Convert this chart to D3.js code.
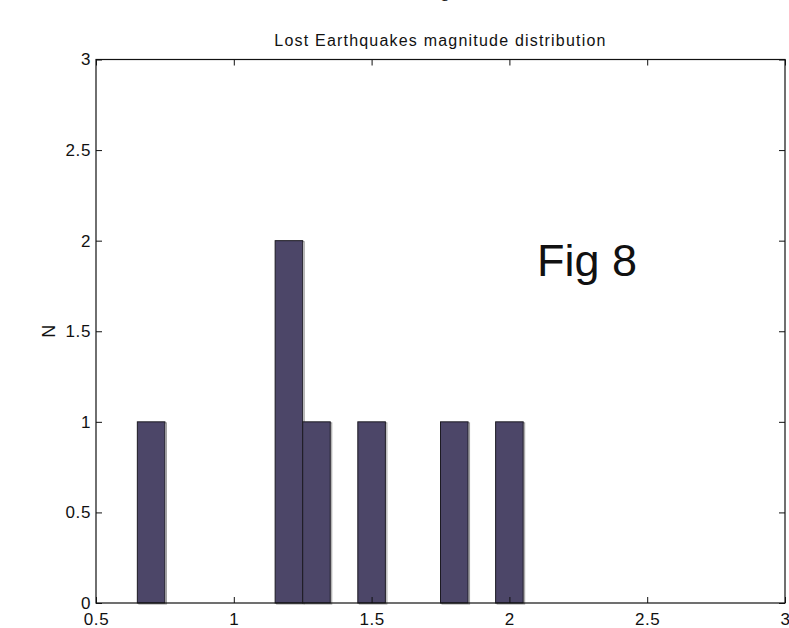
<!DOCTYPE html>
<html>
<head>
<meta charset="utf-8">
<title>Lost Earthquakes magnitude distribution</title>
<style>
  body { margin: 0; background: #fff; }
  svg text { font-family: "Liberation Sans", Arial, Helvetica, sans-serif; fill: #111; }
</style>
</head>
<body>
<div id="chart"></div>
<script src="https://cdn.jsdelivr.net/npm/d3@7/dist/d3.min.js"></script>
<script>
// histogram bins (centres) and counts
var binCenters = [0.7, 0.8, 0.9, 1.0, 1.1, 1.2, 1.3, 1.4, 1.5, 1.6, 1.7, 1.8, 1.9, 2.0];
var counts     = [1,   0,   0,   0,   0,   2,   1,   0,   1,   0,   0,   1,   0,   1];
var binWidth = 0.1;
var xTicks = [0.5, 1, 1.5, 2, 2.5, 3];
var yTicks = [0, 0.5, 1, 1.5, 2, 2.5, 3];

var width = 789, height = 628;
var plotL = 96, plotR = 785, plotT = 59.5, plotB = 603;

var svg = d3.select("#chart").append("svg")
    .attr("width", width)
    .attr("height", height);

var x = d3.scaleLinear().domain([0.5, 3]).range([plotL, plotR]);
var y = d3.scaleLinear().domain([0, 3]).range([plotB, plotT]);

// cut-off caption from page above
svg.append("text")
    .attr("x", 442).attr("y", -3)
    .style("font-family", "Liberation Serif, serif")
    .style("font-style", "italic")
    .style("font-size", "18px")
    .text("g");

// bars (with faint grey shadow like the scan)
var bins = binCenters.map(function(c, i) { return { x0: c - binWidth / 2, x1: c + binWidth / 2, n: counts[i] }; });

svg.append("g").selectAll("rect.shadow")
    .data(bins).enter().append("rect")
    .attr("class", "shadow")
    .attr("x", function(d) { return x(d.x0) + 1.5; })
    .attr("y", function(d) { return y(d.n) + 1; })
    .attr("width", function(d) { return x(d.x1) - x(d.x0); })
    .attr("height", function(d) { return y(0) - y(d.n); })
    .attr("fill", "none")
    .attr("stroke", "#9a9a9a")
    .attr("stroke-width", 1);

svg.append("g").selectAll("rect.bar")
    .data(bins).enter().append("rect")
    .attr("class", "bar")
    .attr("x", function(d) { return x(d.x0); })
    .attr("y", function(d) { return y(d.n); })
    .attr("width", function(d) { return x(d.x1) - x(d.x0); })
    .attr("height", function(d) { return y(0) - y(d.n); })
    .attr("fill", "#4c4668")
    .attr("stroke", "#1c1a22")
    .attr("stroke-width", 1);

// axes box
svg.append("rect")
    .attr("x", plotL).attr("y", plotT)
    .attr("width", plotR - plotL).attr("height", plotB - plotT)
    .attr("fill", "none")
    .attr("stroke", "#111")
    .attr("stroke-width", 1.2);

var tickLen = 6;

svg.append("g")
    .attr("transform", "translate(0," + plotB + ")")
    .call(d3.axisBottom(x).tickValues(xTicks).tickSizeInner(-tickLen).tickSizeOuter(0).tickPadding(10)
        .tickFormat(d3.format("")));
svg.append("g")
    .attr("transform", "translate(0," + plotT + ")")
    .call(d3.axisTop(x).tickValues(xTicks).tickSizeInner(-tickLen).tickSizeOuter(0).tickFormat(""));
svg.append("g")
    .attr("transform", "translate(" + plotL + ",0)")
    .call(d3.axisLeft(y).tickValues(yTicks).tickSizeInner(-tickLen).tickSizeOuter(0).tickPadding(5)
        .tickFormat(d3.format("")));
svg.append("g")
    .attr("transform", "translate(" + plotR + ",0)")
    .call(d3.axisRight(y).tickValues(yTicks).tickSizeInner(-tickLen).tickSizeOuter(0).tickFormat(""));

svg.selectAll(".domain").remove();
svg.selectAll(".tick line").attr("stroke", "#111");
svg.selectAll(".tick text")
    .style("font-family", "Liberation Sans, Arial, sans-serif")
    .style("font-size", "17px")
    .style("letter-spacing", "0.6px")
    .attr("fill", "#111");

// title
svg.append("text")
    .attr("x", (plotL + plotR) / 2).attr("y", 46)
    .attr("text-anchor", "middle")
    .style("font-size", "16px")
    .style("letter-spacing", "1.2px")
    .text("Lost Earthquakes magnitude distribution");

// y label
svg.append("text")
    .attr("transform", "translate(55," + ((plotT + plotB) / 2) + ") rotate(-90)")
    .attr("text-anchor", "middle")
    .style("font-size", "18px")
    .text("N");

// annotation
svg.append("text")
    .attr("x", 537).attr("y", 276)
    .style("font-size", "45px")
    .style("font-weight", "300")
    .text("Fig 8");
</script>
</body>
</html>
